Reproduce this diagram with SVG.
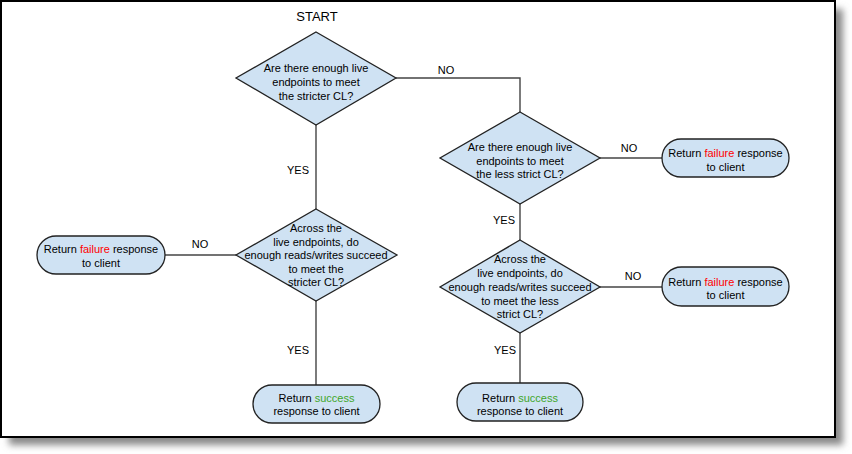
<svg xmlns="http://www.w3.org/2000/svg" width="852" height="454" viewBox="0 0 852 454">
<defs>
<filter id="sh" x="-5%" y="-5%" width="115%" height="115%"><feGaussianBlur stdDeviation="3.5"/></filter>
</defs>
<style>
.shape{fill:#cfe2f3;stroke:#222;stroke-width:1.3}
.t{font-family:"Liberation Sans",Arial,sans-serif;font-size:11px;fill:#000;text-anchor:middle}
.lbl{font-family:"Liberation Sans",Arial,sans-serif;font-size:11px;fill:#000;text-anchor:middle}
.red{fill:#ff0000}
.grn{fill:#3fa62a}
.c{fill:none;stroke:#444;stroke-width:1.4}
</style>
<rect x="9" y="9" width="834" height="436" fill="#8a8a8a" filter="url(#sh)"/>
<rect x="1" y="1" width="834" height="436" fill="#fff" stroke="#000" stroke-width="2"/>
<text x="317" y="21" font-family="'Liberation Sans',Arial,sans-serif" font-size="13px" text-anchor="middle">START</text>
<g id="connectors">
<polyline class="c" points="396,78 520,78 520,112"/>
<line class="c" x1="316" y1="125" x2="316" y2="209"/>
<line class="c" x1="236" y1="255" x2="165" y2="255"/>
<line class="c" x1="316" y1="301" x2="316" y2="385"/>
<line class="c" x1="600" y1="158" x2="662" y2="158"/>
<line class="c" x1="520" y1="204" x2="520" y2="240"/>
<line class="c" x1="600" y1="287" x2="662" y2="287"/>
<line class="c" x1="520" y1="333" x2="520" y2="383"/>
<text class="lbl" x="446" y="74">NO</text>
<text class="lbl" x="298" y="174">YES</text>
<text class="lbl" x="200" y="248">NO</text>
<text class="lbl" x="298" y="354">YES</text>
<text class="lbl" x="629" y="152">NO</text>
<text class="lbl" x="504" y="224">YES</text>
<text class="lbl" x="633" y="280">NO</text>
<text class="lbl" x="505" y="354">YES</text>
</g>
<g id="d1">
<polygon class="shape" points="316,32 396,78 316,125 236,78"/>
<text class="t" x="316" y="72">Are there enough live</text>
<text class="t" x="316" y="86">endpoints to meet</text>
<text class="t" x="316" y="100">the stricter CL?</text>
</g>
<g id="d3">
<polygon class="shape" points="316,209 397,255 316,301 236,255"/>
<text class="t" x="316" y="232">Across the</text>
<text class="t" x="316" y="246">live endpoints, do</text>
<text class="t" x="316" y="259">enough reads/writes succeed</text>
<text class="t" x="316" y="273">to meet the</text>
<text class="t" x="316" y="286">stricter CL?</text>
</g>
<g id="fail1">
<rect class="shape" x="37" y="236" width="128" height="38" rx="19" ry="19"/>
<text class="t" x="101" y="253">Return <tspan class="red">failure</tspan> response</text>
<text class="t" x="101" y="267">to client</text>
</g>
<g id="succ1">
<rect class="shape" x="253" y="385" width="127" height="38" rx="19" ry="19"/>
<text class="t" x="316.5" y="402">Return <tspan class="grn">success</tspan></text>
<text class="t" x="316.5" y="415">response to client</text>
</g>
<g id="d2">
<polygon class="shape" points="520,112 600,158 520,204 440,158"/>
<text class="t" x="520" y="151">Are there enough live</text>
<text class="t" x="520" y="165">endpoints to meet</text>
<text class="t" x="520" y="178">the less strict CL?</text>
</g>
<g id="fail2">
<rect class="shape" x="662" y="139" width="127" height="38" rx="19" ry="19"/>
<text class="t" x="725.5" y="157">Return <tspan class="red">failure</tspan> response</text>
<text class="t" x="725.5" y="171">to client</text>
</g>
<g id="d4">
<polygon class="shape" points="520,240 600,287 520,333 440,287"/>
<text class="t" x="520" y="263">Across the</text>
<text class="t" x="520" y="277">live endpoints, do</text>
<text class="t" x="520" y="291">enough reads/writes succeed</text>
<text class="t" x="520" y="305">to meet the less</text>
<text class="t" x="520" y="318">strict CL?</text>
</g>
<g id="fail3">
<rect class="shape" x="662" y="267" width="127" height="39" rx="19.5" ry="19.5"/>
<text class="t" x="725.5" y="286">Return <tspan class="red">failure</tspan> response</text>
<text class="t" x="725.5" y="299">to client</text>
</g>
<g id="succ2">
<rect class="shape" x="457" y="383" width="126" height="38" rx="19" ry="19"/>
<text class="t" x="520" y="402">Return <tspan class="grn">success</tspan></text>
<text class="t" x="520" y="415">response to client</text>
</g>
</svg>
